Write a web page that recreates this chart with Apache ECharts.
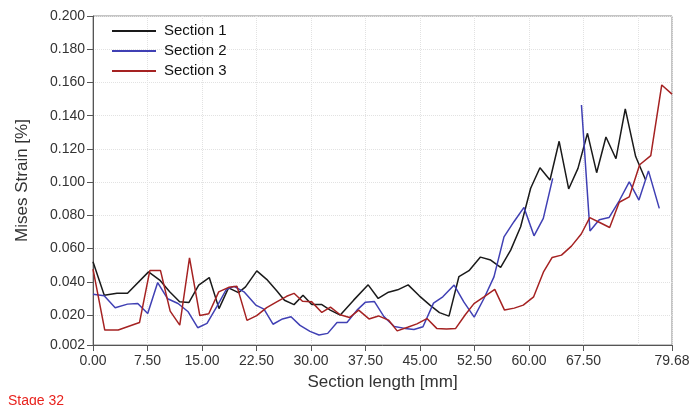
<!DOCTYPE html>
<html>
<head>
<meta charset="utf-8">
<title>Mises Strain</title>
<script src="https://cdn.jsdelivr.net/npm/echarts@6.0.0/dist/echarts.min.js"></script>
<style>
  html, body { margin: 0; padding: 0; background: #fff; }
  #chart { width: 693px; height: 405px; }
</style>
</head>
<body>
<div id="chart"></div>
<script>
// data (x in mm, y in %)
var s1X = [0, 1.55, 3.30, 4.75, 7.64, 9.18, 10.55, 11.92, 13.21, 14.55, 16.00, 17.34, 18.65, 20.02, 20.99, 22.54, 23.90, 25.28, 26.35, 27.66, 28.90, 30.10, 31.44, 32.65, 34.03, 35.87, 37.87, 39.25, 40.66, 41.93, 43.37, 44.90, 46.37, 47.68, 48.99, 50.36, 51.74, 53.32, 54.73, 56.10, 57.48, 58.85, 60.23, 61.51, 62.89, 64.15, 65.46, 66.74, 68.05, 69.31, 70.59, 71.97, 73.25, 74.68, 76.05]
var s1Y = [0.0521, 0.0319, 0.0331, 0.0331, 0.0460, 0.0411, 0.0340, 0.0280, 0.0276, 0.0381, 0.0426, 0.0239, 0.0364, 0.0335, 0.0370, 0.0466, 0.0415, 0.0346, 0.0289, 0.0263, 0.0320, 0.0264, 0.0264, 0.0230, 0.0200, 0.0290, 0.0382, 0.0300, 0.0338, 0.0352, 0.0382, 0.0316, 0.0260, 0.0215, 0.0194, 0.0432, 0.0467, 0.0549, 0.0531, 0.0487, 0.0591, 0.0732, 0.0963, 0.1087, 0.1013, 0.1246, 0.0959, 0.1083, 0.1294, 0.1057, 0.1272, 0.1141, 0.1441, 0.1154, 0.1013]

var s2X = [0, 1.54, 3.05, 4.75, 6.16, 7.53, 8.90, 10.28, 11.70, 13.10, 14.41, 15.69, 17.06, 18.34, 19.40, 20.78, 22.40, 23.53, 24.77, 26.08, 27.25, 28.49, 29.86, 31.10, 32.30, 33.58, 34.95, 36.33, 37.50, 38.71, 40.04, 41.46, 42.93, 44.17, 45.41, 46.86, 48.14, 49.70, 51.05, 52.46, 53.80, 55.18, 56.56, 57.93, 59.31, 60.69, 61.97, 63.26, 65.20, 67.22, 68.39, 69.67, 71.01, 72.42, 73.80, 75.13, 76.44, 77.93]
var s2Y = [0.0325, 0.0316, 0.0244, 0.0266, 0.0270, 0.0210, 0.0396, 0.0298, 0.0270, 0.0220, 0.0124, 0.0150, 0.0252, 0.0354, 0.0373, 0.0340, 0.0260, 0.0236, 0.0145, 0.0177, 0.0190, 0.0138, 0.0102, 0.0080, 0.0090, 0.0155, 0.0155, 0.0230, 0.0278, 0.0282, 0.0191, 0.0131, 0.0120, 0.0113, 0.0130, 0.0272, 0.0310, 0.0381, 0.0278, 0.0188, 0.0300, 0.0430, 0.0671, 0.0762, 0.0848, 0.0677, 0.0782, 0.1023, null, 0.1464, 0.0706, 0.0774, 0.0787, 0.0888, 0.1002, 0.0892, 0.1068, 0.0842]

var s3X = [0, 1.62, 3.47, 6.40, 7.82, 9.29, 10.62, 11.94, 13.28, 14.70, 15.93, 17.30, 18.67, 19.82, 21.19, 22.53, 23.90, 25.28, 26.65, 27.66, 28.83, 30.07, 31.49, 32.68, 34.02, 35.30, 36.56, 37.98, 39.29, 40.66, 41.86, 43.30, 44.58, 45.96, 47.30, 48.65, 49.91, 51.23, 52.43, 53.80, 55.29, 56.63, 57.97, 59.21, 60.64, 62.02, 63.19, 64.47, 65.84, 67.19, 68.36, 69.73, 71.10, 72.42, 73.80, 75.23, 76.76, 78.27, 79.68]
var s3Y = [0.0477, 0.0110, 0.0110, 0.0155, 0.0468, 0.0468, 0.0224, 0.0140, 0.0545, 0.0197, 0.0208, 0.0340, 0.0367, 0.0373, 0.0168, 0.0197, 0.0245, 0.0280, 0.0313, 0.0331, 0.0283, 0.0281, 0.0216, 0.0248, 0.0202, 0.0185, 0.0230, 0.0177, 0.0195, 0.0170, 0.0105, 0.0127, 0.0147, 0.0179, 0.0120, 0.0116, 0.0120, 0.0202, 0.0269, 0.0310, 0.0355, 0.0230, 0.0242, 0.0260, 0.0310, 0.0462, 0.0547, 0.0561, 0.0615, 0.0688, 0.0787, 0.0757, 0.0727, 0.0879, 0.0912, 0.1105, 0.1160, 0.1585, 0.1530]

var seriesNames = ['Section 1', 'Section 2', 'Section 3']
var xTicks = [0, 7.5, 15, 22.5, 30, 37.5, 45, 52.5, 60, 67.5, 79.68]
var yTicks = [0.002, 0.02, 0.04, 0.06, 0.08, 0.1, 0.12, 0.14, 0.16, 0.18, 0.2]

var font = '"Liberation Sans", Arial, sans-serif'

function pairs(xs, ys) {
  return xs.map(function (x, i) {
    return [x, ys[i] === null ? '-' : ys[i]]
  })
}

function lineSeries(name, data, color) {
  return {
    name: name,
    type: 'line',
    data: data,
    symbol: 'none',
    connectNulls: false,
    lineStyle: { color: color, width: 1.5 },
    itemStyle: { color: color },
    animation: false
  }
}

var chart = echarts.init(document.getElementById('chart'))
chart.setOption({
  animation: false,
  textStyle: { fontFamily: font },
  grid: {
    left: 93,
    right: 21,
    top: 16,
    bottom: 60,
    show: true,
    borderColor: '#8a8a8a',
    borderWidth: 1
  },
  legend: {
    left: 107,
    top: 16,
    orient: 'vertical',
    icon: 'rect',
    itemWidth: 44,
    itemHeight: 2,
    itemGap: 0,
    textStyle: { fontSize: 15, lineHeight: 20, color: '#111', fontFamily: font, padding: [0, 0, 0, 3] },
    data: seriesNames
  },
  xAxis: [
    {
      type: 'value',
      min: 0,
      max: 79.68,
      name: 'Section length [mm]',
      nameLocation: 'middle',
      nameGap: 29,
      nameTextStyle: { fontSize: 17, color: '#333', fontFamily: font },
      axisLine: { lineStyle: { color: '#555', width: 1 } },
      axisTick: { show: true, length: 6, customValues: xTicks, lineStyle: { color: '#555' } },
      axisLabel: {
        customValues: xTicks,
        fontSize: 14,
        color: '#333',
        margin: 9,
        formatter: function (v) { return v.toFixed(2) }
      },
      splitLine: { show: false }
    },
    {
      // only for the faint vertical grid (every 7.5 mm, incl. 75)
      type: 'value',
      min: 0,
      max: 79.68,
      interval: 7.5,
      position: 'bottom',
      axisLine: { show: false },
      axisTick: { show: false },
      axisLabel: { show: false },
      splitLine: { show: true, lineStyle: { color: '#e2e2e2', type: 'dotted', width: 1 } }
    }
  ],
  yAxis: {
    type: 'value',
    min: 0.002,
    max: 0.2,
    name: 'Mises Strain [%]',
    nameLocation: 'middle',
    nameGap: 62,
    nameTextStyle: { fontSize: 17, color: '#333', fontFamily: font },
    axisLine: { show: true, lineStyle: { color: '#555', width: 1 } },
    axisTick: { show: true, length: 6, customValues: yTicks, lineStyle: { color: '#555' } },
    axisLabel: {
      customValues: yTicks,
      fontSize: 14,
      color: '#333',
      margin: 8,
      formatter: function (v) { return v.toFixed(3) }
    },
    splitLine: { show: true, lineStyle: { color: '#e2e2e2', type: 'dotted', width: 1 } }
  },
  graphic: [
    {
      type: 'text',
      left: 8,
      top: 394,
      style: { text: 'Stage 32', fill: '#e8231e', fontSize: 14, fontFamily: font }
    }
  ],
  series: [
    lineSeries(seriesNames[0], pairs(s1X, s1Y), '#1a1a1a'),
    lineSeries(seriesNames[1], pairs(s2X, s2Y), '#4040b4'),
    lineSeries(seriesNames[2], pairs(s3X, s3Y), '#a52222')
  ]
})
</script>
</body>
</html>
